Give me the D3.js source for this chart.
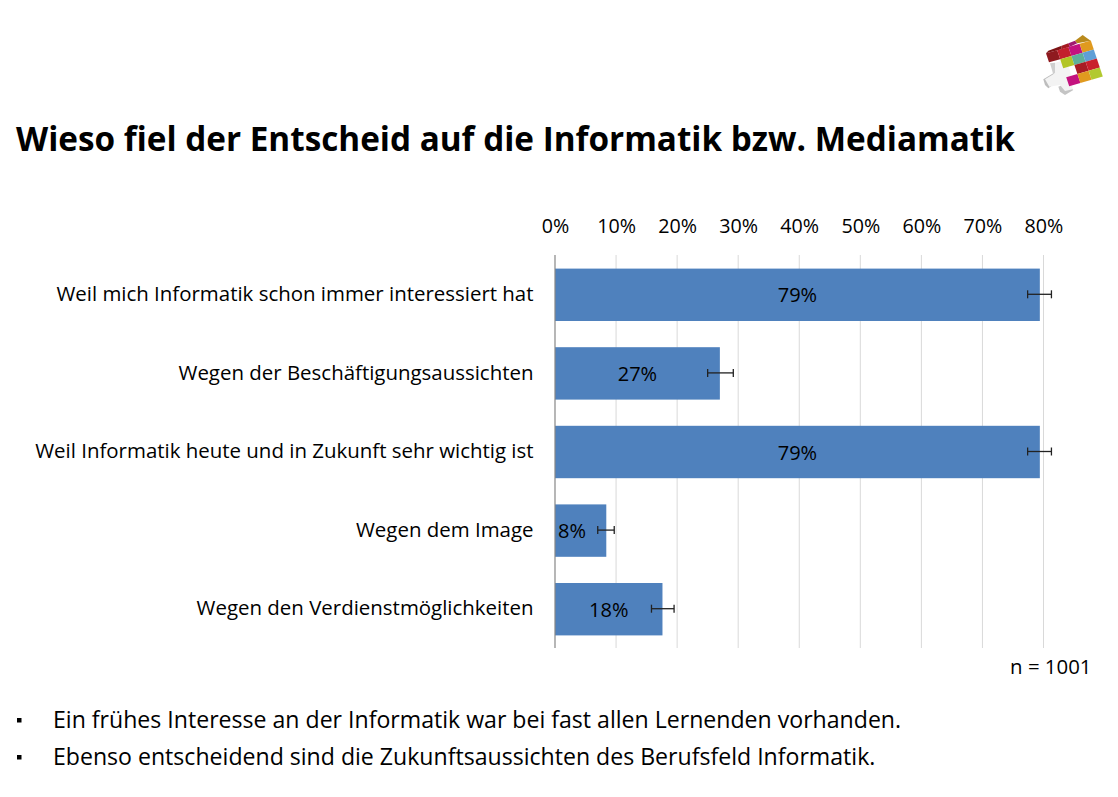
<!DOCTYPE html>
<html><head><meta charset="utf-8">
<script src="https://cdn.jsdelivr.net/npm/d3@7"></script>
<style>html,body{margin:0;padding:0;background:#fff}svg{display:block}text{font-family:"Open Sans",sans-serif;fill:#000}</style>
</head><body><div id="c"></div>
<script>
const categories=["Weil mich Informatik schon immer interessiert hat","Wegen der Beschäftigungsaussichten","Weil Informatik heute und in Zukunft sehr wichtig ist","Wegen dem Image","Wegen den Verdienstmöglichkeiten"];
const values=[79.4,27.0,79.4,8.4,17.6];
const labels=["79%","27%","79%","8%","18%"];
const labelAt=[39.7,13.5,39.7,2.8,8.8];
const errLow=[77.4,25.0,77.4,7.0,15.8];
const errHigh=[81.3,29.2,81.3,9.7,19.5];
const tickValues=[0,10,20,30,40,50,60,70,80];
const title="Wieso fiel der Entscheid auf die Informatik bzw. Mediamatik";
const note="n = 1001";
const bullets=["Ein frühes Interesse an der Informatik war bei fast allen Lernenden vorhanden.","Ebenso entscheidend sind die Zukunftsaussichten des Berufsfeld Informatik."];
const logoColors=[["#8f1a1f","#c3202c","#c4127f","#e09a1f"],[null,"#b2c526","#5fb09a","#5f9fd6"],[null,null,"#a81c24","#c9202c"],[null,"#c4127f","#e09a1f","#b2c930"]];

const W=1118,H=797;
const svg=d3.select("#c").append("svg").attr("width",W).attr("height",H);
const x=d3.scaleLinear().domain([0,80]).range([555,1043.5]);
const y=d3.scaleBand().domain(categories).range([255.5,648.5]).paddingInner(1/3).paddingOuter(1/6);

svg.append("text").attr("x",16).attr("y",151).attr("font-size",34.5).attr("font-weight",700).attr("textLength",999).attr("lengthAdjust","spacingAndGlyphs").text(title);

// gridlines
svg.append("g").selectAll("line").data(tickValues.slice(1)).join("line")
 .attr("x1",d=>x(d)).attr("x2",d=>x(d)).attr("y1",255).attr("y2",648).attr("stroke","#d9d9d9").attr("stroke-width",1);

// bars
svg.append("g").selectAll("rect").data(values).join("rect")
 .attr("x",x(0)).attr("y",(d,i)=>y(categories[i])).attr("width",d=>x(d)-x(0)).attr("height",y.bandwidth()).attr("fill","#4f81bd");

// baseline
svg.append("line").attr("x1",x(0)).attr("x2",x(0)).attr("y1",255).attr("y2",648).attr("stroke","#868686").attr("stroke-width",1.2);

// top axis
const ax=svg.append("g").attr("transform","translate(0,232.5)").call(d3.axisTop(x).tickValues(tickValues).tickFormat(d=>d+"%").tickSize(0).tickPadding(0));
ax.select(".domain").remove();
ax.selectAll("text").attr("font-size",19.7).attr("font-family",'"Open Sans",sans-serif').attr("fill","#000").attr("dy","0");

// category labels
const ay=svg.append("g").attr("transform","translate(533.5,0)").call(d3.axisLeft(y).tickSize(0).tickPadding(0));
ay.select(".domain").remove();
ay.selectAll("text").attr("font-size",20.44).attr("font-family",'"Open Sans",sans-serif').attr("fill","#000").attr("dy","0.3em");

// data labels
svg.append("g").selectAll("text").data(labelAt).join("text")
 .attr("x",d=>x(d)).attr("y",(d,i)=>y(categories[i])+y.bandwidth()/2+7.5)
 .attr("text-anchor","middle").attr("font-size",20).text((d,i)=>labels[i]);

// error bars
const eb=svg.append("g").attr("stroke","#222").attr("stroke-width",1.3).attr("fill","none");
categories.forEach((c,i)=>{
 const cy=y(c)+y.bandwidth()/2-0.5;
 eb.append("line").attr("x1",x(errLow[i])).attr("x2",x(errHigh[i])).attr("y1",cy).attr("y2",cy);
 [errLow[i],errHigh[i]].forEach(v=>eb.append("line").attr("x1",x(v)).attr("x2",x(v)).attr("y1",cy-4).attr("y2",cy+4));
});

svg.append("text").attr("x",1091.5).attr("y",673.5).attr("text-anchor","end").attr("font-size",20.4).text(note);

bullets.forEach((b,i)=>{
 const by=[720,757][i];
 svg.append("rect").attr("x",17).attr("y",by-2).attr("width",4.5).attr("height",4.5).attr("fill","#000");
 svg.append("text").attr("x",53).attr("y",by+8).attr("font-size",23.1).text(b);
});

// logo
const logo=svg.append("g");
const Z=(a,b)=>[1020+a/3,20+b/3];
const O=Z(78,100),u=[11.2,-3.2],v=[3,9];
const P=(r,c)=>[O[0]+c*u[0]+r*v[0],O[1]+c*u[1]+r*v[1]];
const poly=(pts,f)=>logo.append("polygon").attr("points",pts.map(p=>p.join(",")).join(" ")).attr("fill",f);
poly([Z(70,178),Z(100,160),Z(105,190),Z(85,205),Z(75,195)],"#bdbdbd");
poly([Z(115,200),Z(140,190),Z(160,210),Z(135,225),Z(120,215)],"#c4c4c4");
poly([Z(90,130),Z(105,128),Z(108,155),Z(100,165),Z(96,150)],"#cfcfcf");
poly([Z(105,128),Z(135,120),Z(150,150),Z(158,208),Z(135,213),Z(120,195),Z(88,200),Z(75,178),Z(105,160)],"#f3f3f3");
poly([Z(78,100),Z(85,92),Z(125,77),Z(125,88)],"#7d1416");
poly([Z(125,77),Z(145,70),Z(150,80),Z(125,88)],"#a51a22");
poly([Z(145,70),Z(165,62),Z(172,70),Z(150,80)],"#a01a70");
poly([Z(165,62),Z(188,45),Z(212,62),Z(172,70)],"#b98a1c");
logoColors.forEach((row,r)=>row.forEach((col,c)=>{if(col)poly([P(r,c),P(r,c+1),P(r+1,c+1),P(r+1,c)],col);}));
</script></body></html>
